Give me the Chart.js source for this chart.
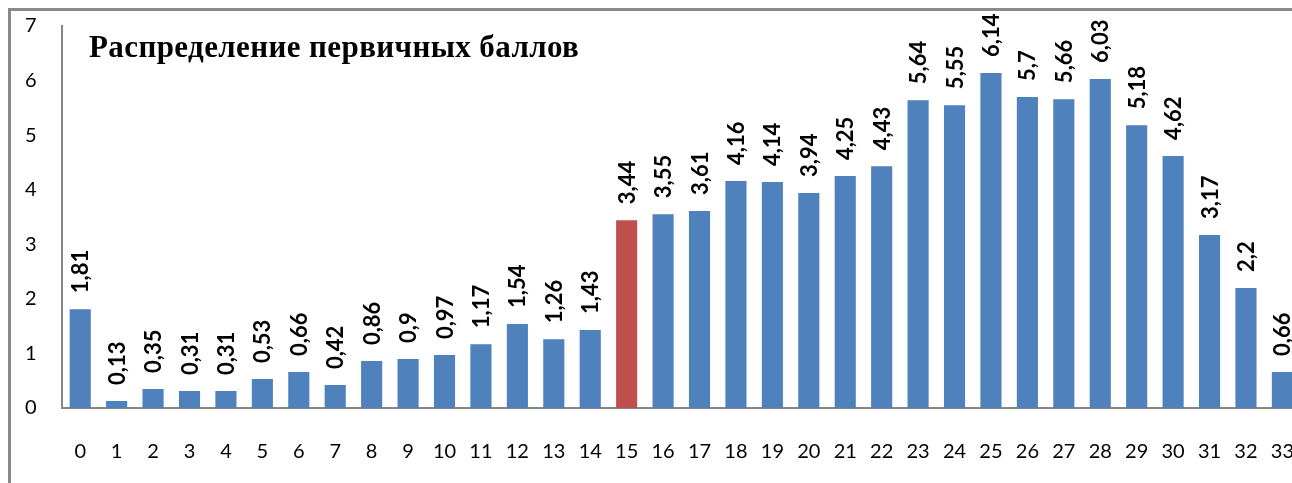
<!DOCTYPE html>
<html>
<head>
<meta charset="utf-8">
<script src="https://cdn.jsdelivr.net/npm/chart.js@4/dist/chart.umd.min.js"></script>
<style>
    html, body { margin: 0; padding: 0; background: #fff; overflow: hidden; }
    #wrap { position: relative; width: 1292px; height: 483px; overflow: hidden; }
    #frame {
        position: absolute; left: 8px; top: 8px; width: 1400px; height: 600px;
        border-left: 3px solid #898989; border-top: 3px solid #898989;
    }
    #box { position: absolute; left: 0; top: 0; width: 1326px; height: 483px; }
    #title {
        position: absolute; left: 89px; top: 31px; line-height: 1; letter-spacing: 0.4px;
        font-family: "Liberation Serif", "Times New Roman", serif;
        font-weight: bold; font-size: 31px; color: #000; white-space: nowrap;
    }
</style>
</head>
<body>
<div id="wrap">
    <div id="frame"></div>
    <div id="box"><canvas id="chartScores" width="1326" height="483"></canvas></div>
    <div id="title">Распределение первичных баллов</div>
</div>
<script>
    const scores = ['0', '1', '2', '3', '4', '5', '6', '7', '8', '9', '10', '11', '12', '13', '14', '15', '16',
        '17', '18', '19', '20', '21', '22', '23', '24', '25', '26', '27', '28', '29', '30', '31', '32', '33'];
    const percents = [1.81, 0.13, 0.35, 0.31, 0.31, 0.53, 0.66, 0.42, 0.86, 0.9, 0.97, 1.17, 1.54, 1.26, 1.43, 3.44,
        3.55, 3.61, 4.16, 4.14, 3.94, 4.25, 4.43, 5.64, 5.55, 6.14, 5.7, 5.66, 6.03, 5.18, 4.62, 3.17, 2.2, 0.66];
    const thresholdScore = '15';

    const barColors = scores.map(function(s) {
        return s === thresholdScore ? '#C0504D' : '#4F81BD';
    });

    // vertical value labels above each bar
    const valueLabels = {
        id: 'valueLabels',
        afterDatasetsDraw: function(chart) {
            const ctx = chart.ctx;
            const meta = chart.getDatasetMeta(0);
            ctx.save();
            ctx.font = 'bold 22px Lato';
            ctx.fillStyle = '#000';
            ctx.textAlign = 'left';
            ctx.textBaseline = 'middle';
            meta.data.forEach(function(bar, i) {
                ctx.save();
                ctx.translate(bar.x + 1, bar.y - 16);
                ctx.rotate(-Math.PI / 2);
                ctx.fillText(String(percents[i]).replace('.', ','), 0, 0);
                ctx.restore();
            });
            ctx.restore();
        }
    };

    window.scoresChart = new Chart(document.getElementById('chartScores'), {
        type: 'bar',
        data: {
            labels: scores,
            datasets: [{
                data: percents,
                backgroundColor: barColors,
                borderWidth: 0,
                barPercentage: 0.58,
                categoryPercentage: 1
            }]
        },
        options: {
            responsive: false,
            animation: false,
            layout: { padding: { top: 26, left: 25, right: 0, bottom: 0 } },
            plugins: {
                legend: { display: false },
                tooltip: { enabled: false }
            },
            scales: {
                x: {
                    grid: { display: false, drawTicks: false },
                    border: { color: '#878787', width: 2 },
                    ticks: { color: '#000', padding: 32, maxRotation: 0, autoSkip: false, font: { family: 'Lato', size: 20 } },
                    afterFit: function(scale) { scale.height = 75; }
                },
                y: {
                    min: 0,
                    max: 7,
                    grid: { display: false, drawTicks: false },
                    border: { color: '#878787', width: 2 },
                    ticks: { stepSize: 1, color: '#000', padding: 0, crossAlign: 'far', font: { family: 'Lato', size: 20 } },
                    afterFit: function(scale) { scale.width = 37; }
                }
            }
        },
        plugins: [valueLabels]
    });
</script>
</body>
</html>
